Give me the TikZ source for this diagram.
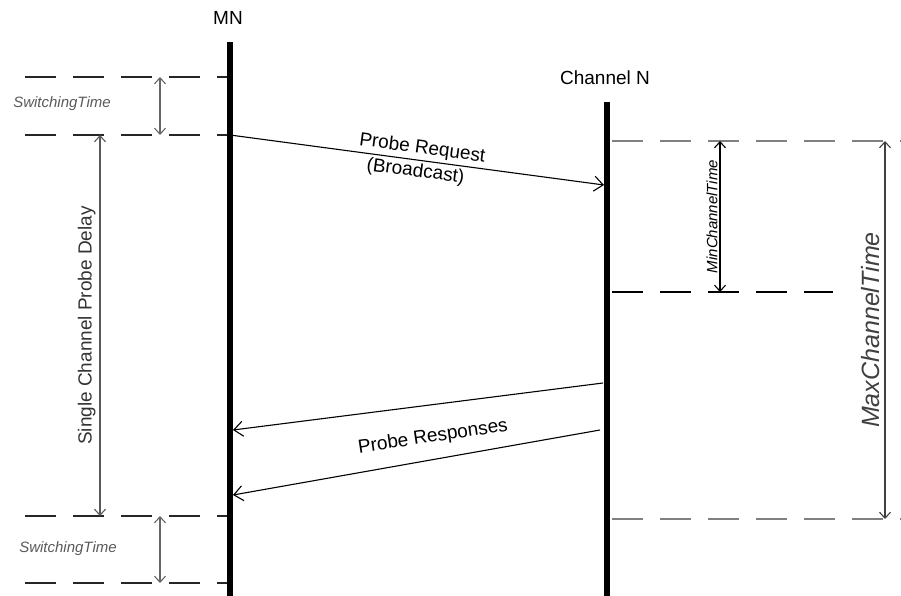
\documentclass[tikz,border=0pt]{standalone}
\usepackage{fontspec}
\setmainfont{Liberation Sans}
\usetikzlibrary{arrows.meta}

\begin{document}
\begin{tikzpicture}[x=1pt, y=-1pt, font=\fontsize{19}{22}\selectfont,
  lifeline/.style={line width=5.5pt},
  guide/.style={line width=1.1pt, dash pattern=on 31pt off 17pt},
  span/.style={line width=1.1pt, {Straight Barb[length=6pt,width=11pt]}-{Straight Barb[length=6pt,width=11pt]}},
  msg/.style={line width=1.1pt, -{Straight Barb[length=9pt,width=15pt]}},
  tiny/.style={font=\fontsize{15}{17}\selectfont\itshape}]
  \useasboundingbox (0,0) rectangle (901,596);

  % levels of the guide lines
  \coordinate (lA) at (25,77);   \coordinate (lB) at (25,135);
  \coordinate (lC) at (25,516);  \coordinate (lD) at (25,583);
  \coordinate (rA) at (612,141); \coordinate (rB) at (612,292);
  \coordinate (rC) at (612,519);
  \coordinate (swx) at (160,0);  \coordinate (delx) at (100,0);
  \coordinate (minx) at (720,0); \coordinate (maxx) at (885,0);

  \foreach \c in {lA,lB,lC,lD}
    \draw[guide, black!85] (\c) -- ++(205,0);
  \draw[guide, black!50] (rA) -- ++(289,0);
  \draw[guide] (rB) -- ++(221,0);
  \draw[guide, black!50] (rC) -- ++(289,0);

  % lifelines
  \node (mn) at (228,18) {MN};
  \node (chn) at (605,78) {Channel N};
  \coordinate (mnT) at (230,42);  \coordinate (mnB) at (230,596);
  \coordinate (chT) at (607,102); \coordinate (chB) at (607,596);
  \draw[lifeline] (mnT) -- (mnB);
  \draw[lifeline] (chT) -- (chB);

  % time spans
  \draw[span, black!60] (swx |- lA) -- (swx |- lB);
  \draw[span, black!60] (swx |- lC) -- (swx |- lD);
  \node[tiny, text=black!65] (swtop) at (62,104) {SwitchingTime};
  \node[tiny, text=black!65] (swbot) at (68,549) {SwitchingTime};
  \draw[span, black!65] (delx |- lB) -- node[rotate=90, anchor=south, inner sep=4pt, text=black!80] (delay) {Single Channel Probe Delay} (delx |- lC);
  \draw[span] (minx |- rA) -- node[tiny, rotate=90, anchor=south, inner sep=2pt] (minct) {MinChannelTime} (minx |- rB);
  \draw[span, black!75] (maxx |- rA) -- node[rotate=90, anchor=south, inner sep=5pt, font=\fontsize{25}{28}\selectfont\itshape] (maxct) {MaxChannelTime} (maxx |- rC);

  % messages
  \coordinate (reqS) at (mnT |- lB); \coordinate (reqE) at (604,185);
  \draw[msg] (reqS) -- node[sloped, above, inner sep=2.5pt, pos=0.51] (req) {Probe Request}
    node[sloped, below, inner sep=2.5pt, pos=0.5] (bc) {(Broadcast)} (reqE);
  \coordinate (rs1S) at (603,383); \coordinate (rs1E) at (233,430);
  \coordinate (rs2S) at (600,430); \coordinate (rs2E) at (233,495);
  \draw[msg] (rs1S) -- (rs1E);
  \draw[msg] (rs2S) -- (rs2E);
  \node[rotate=8.5] (resp) at (433,437) {Probe Responses};
\end{tikzpicture}
\end{document}
